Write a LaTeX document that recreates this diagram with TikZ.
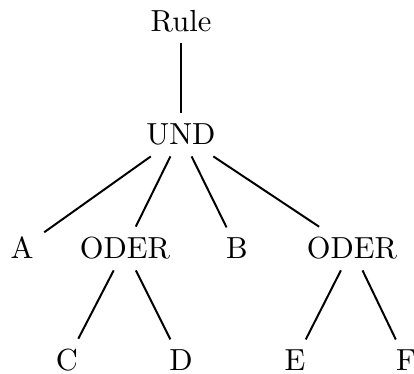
\documentclass[tikz,border=0pt]{standalone}
\begin{document}
\begin{tikzpicture}[x=0.328pt,y=-0.328pt,
  tn/.style={anchor=base,inner sep=3.33pt,font=\fontsize{10}{12}\selectfont},
  edge/.style={draw,line width=0.65pt}]
\useasboundingbox (0,0) rectangle (414,374);
\node[tn] (rule) at (181,32) {Rule};
\node[tn] (und) at (181,145) {UND};
\node[tn] (a) at (22,259) {A};
\node[tn] (o1) at (125,259) {ODER};
\node[tn] (b) at (237,259) {B};
\node[tn] (o2) at (352,259) {ODER};
\node[tn] (c) at (67,371) {C};
\node[tn] (d) at (181,371) {D};
\node[tn] (e) at (295,371) {E};
\node[tn] (f) at (406,371) {F};
\draw[edge] (rule) -- (und);
\draw[edge] (und) -- (a);
\draw[edge] (und) -- (o1);
\draw[edge] (und) -- (b);
\draw[edge] (und) -- (o2);
\draw[edge] (o1) -- (c);
\draw[edge] (o1) -- (d);
\draw[edge] (o2) -- (e);
\draw[edge] (o2) -- (f);
\end{tikzpicture}
\end{document}
